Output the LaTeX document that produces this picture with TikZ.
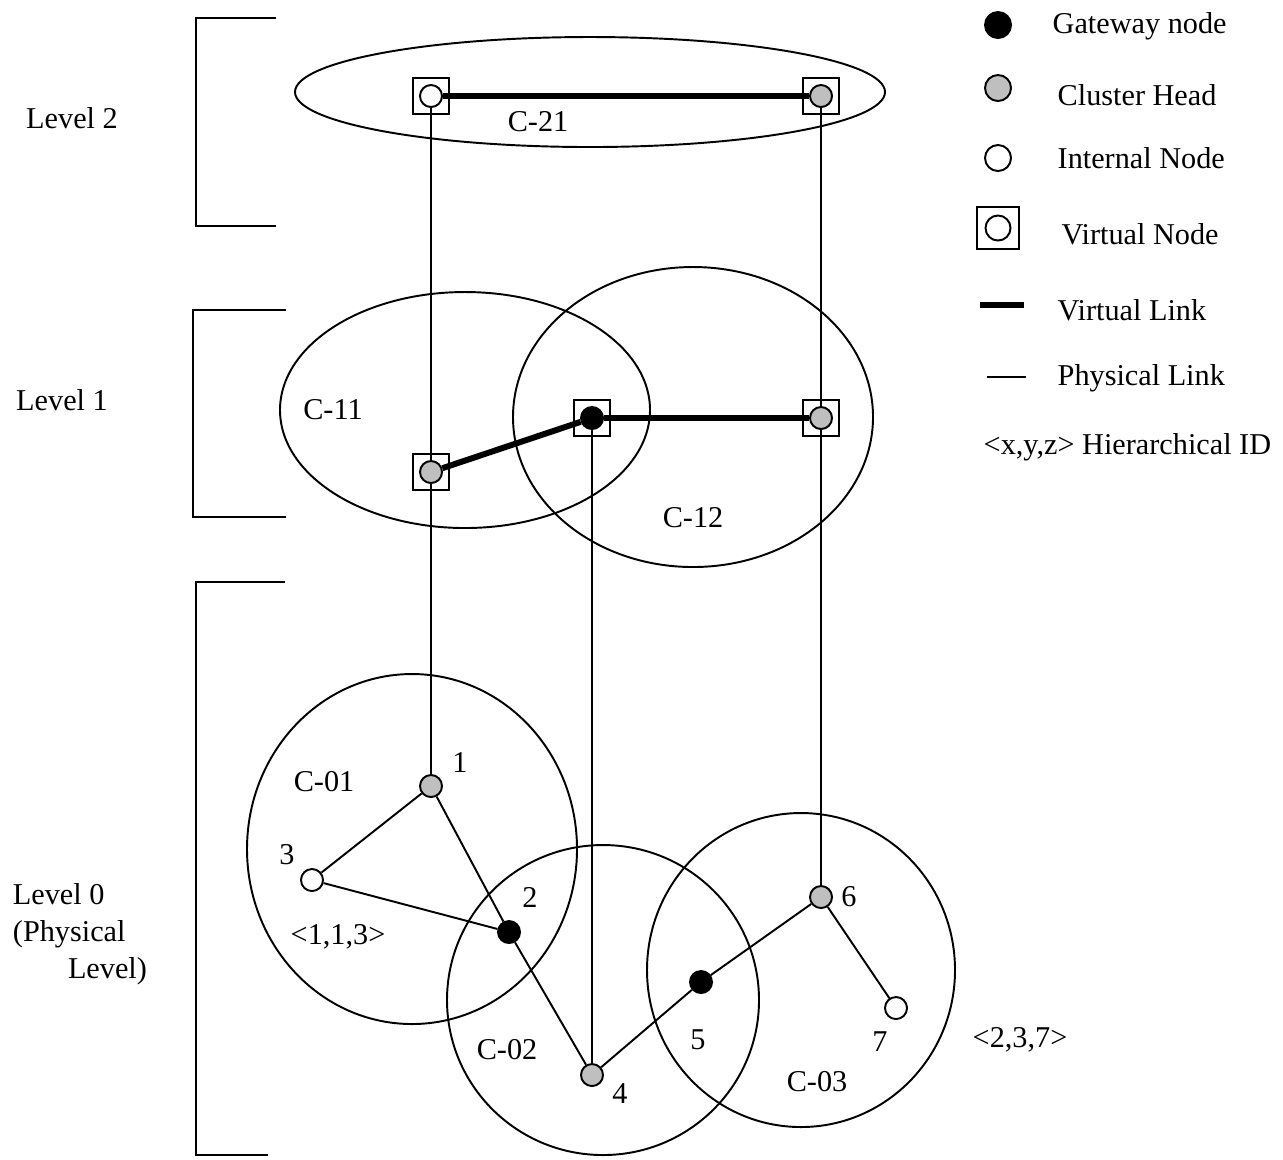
\documentclass[tikz,border=0pt]{standalone}
\usepackage{fontspec}
\setmainfont{Liberation Serif}

\begin{document}
\begin{tikzpicture}[x=0.01cm, y=-0.01cm, line width=0.55pt,
        font=\fontsize{8.6}{10.4}\selectfont,
        dot/.style={circle, draw, line width=0.55pt, minimum size=0.22cm, inner sep=0pt},
        gateway/.style={dot, fill=black},
        head/.style={dot, fill=black!25},
        inner/.style={dot, fill=white},
        vbox/.style={draw, line width=0.55pt, minimum size=0.36cm, inner sep=0pt},
        vlink/.style={line width=1.7pt}]
        \useasboundingbox (0,0) rectangle (1283,1159);
        % level brackets
        \draw (276,18) -- (196,18) -- (196,226) -- (276,226);
        \draw (286,310) -- (193,310) -- (193,517) -- (286,517);
        \draw (285,582) -- (196,582) -- (196,1155) -- (268,1155);
        \node (lev2) at (72,118) {Level 2};
        \node (lev1) at (62,400) {Level 1};
        \node[anchor=north west, align=left, inner sep=0pt] (lev0) at (12,883)
            {Level 0\\(Physical\\\hspace*{0.55cm}Level)};
        % clusters
        \draw (590,92) ellipse (295 and 55);
        \draw (465,410) ellipse (185 and 118);
        \draw (693,417) ellipse (180 and 150);
        \draw (412,849) ellipse (165 and 175);
        \draw (603,1000) ellipse (156 and 155);
        \draw (801,970) ellipse (154 and 157);
        \node (c21) at (538,122) {C-21};
        \node (c11) at (333,410) {C-11};
        \node (c12) at (693,518) {C-12};
        \node (c01) at (324,782) {C-01};
        \node (c02) at (507,1050) {C-02};
        \node (c03) at (817,1082) {C-03};
        % virtual nodes
        \node[vbox] (b21a) at (431,96) {};
        \node[inner] (v21a) at (b21a) {};
        \node[vbox] (b21b) at (821,96) {};
        \node[head] (v21b) at (b21b) {};
        \node[vbox] (b11a) at (431,472) {};
        \node[head] (v11a) at (b11a) {};
        \node[vbox] (b11b) at (592,418) {};
        \node[gateway] (v11b) at (b11b) {};
        \node[vbox] (b12) at (821,418) {};
        \node[head] (v12) at (b12) {};
        % physical nodes
        \node[head] (n1) at (431,786) {};
        \node[gateway] (n2) at (509,932) {};
        \node[inner] (n3) at (312,880) {};
        \node[head] (n4) at (592,1075) {};
        \node[gateway] (n5) at (701,982) {};
        \node[head] (n6) at (821,897) {};
        \node[inner] (n7) at (896,1008) {};
        \foreach \n/\p in {1/{460,762}, 2/{530,897}, 3/{287,855}, 4/{620,1094},
                5/{698,1040}, 6/{849,897}, 7/{880,1042}}
            \node (l\n) at (\p) {\n};
        \node (id113) at (338,937) {<1,1,3>};
        \node (id237) at (1020,1040) {<2,3,7>};
        % links
        \draw[vlink] (v21a) -- (v21b);
        \draw[vlink] (v11a) -- (v11b);
        \draw[vlink] (v11b) -- (v12);
        \draw (v21a) -- (v11a) -- (n1);
        \draw (v21b) -- (v12) -- (n6);
        \draw (v11b) -- (n4);
        \draw (n1) -- (n3) -- (n2);
        \draw (n1) -- (n2) -- (n4) -- (n5) -- (n6) -- (n7);
        % legend
        \node[gateway, minimum size=0.26cm] (kgw) at (998,25) {};
        \node[head, minimum size=0.26cm] (kch) at (998,88) {};
        \node[inner, minimum size=0.26cm] (kin) at (998,158) {};
        \node[vbox, minimum size=0.42cm] (kvb) at (998,228) {};
        \node[inner, minimum size=0.25cm] (kvn) at (kvb) {};
        \draw[vlink] (980,305) -- (1024,305);
        \draw (987,377) -- (1026,377);
        \node[anchor=west] (tgw) at (1040,26) {Gateway node};
        \node[anchor=west] (tch) at (1045,95) {Cluster Head};
        \node[anchor=west] (tin) at (1045,158) {Internal Node};
        \node[anchor=west] (tvn) at (1049,234) {Virtual Node};
        \node[anchor=west] (tvl) at (1045,310) {Virtual Link};
        \node[anchor=west] (tpl) at (1045,378) {Physical Link};
        \node[anchor=west] (tid) at (971,447) {<x,y,z> Hierarchical ID};
    \end{tikzpicture}
\end{document}
